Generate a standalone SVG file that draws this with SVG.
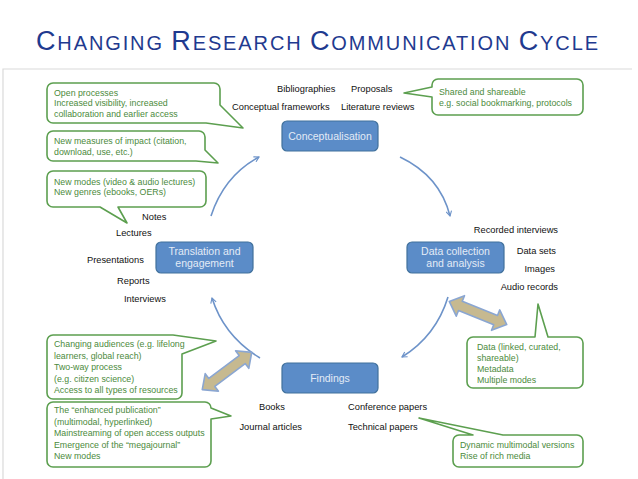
<svg xmlns="http://www.w3.org/2000/svg" width="638" height="479" viewBox="0 0 638 479">
<defs>
<style>
.title{font-family:"Liberation Sans",Arial,sans-serif;fill:#1f3a8f}
.lbl{font-family:"Liberation Sans",Arial,sans-serif;font-size:9.3px;fill:#111}
.ct{font-family:"Liberation Sans",Arial,sans-serif;font-size:8.8px;fill:#4b8a3c}
.co{fill:#fff;stroke:#5c9f4f;stroke-width:1.6;stroke-linejoin:round}
.box{fill:#5b8cc8;stroke:#41719c;stroke-width:1.2}
.bt{font-family:"Liberation Sans",Arial,sans-serif;font-size:10.5px;fill:#e3ebf6;text-anchor:middle}
.conn{fill:none;stroke:#6d93c9;stroke-width:1.6}
.dbl{fill:#c6b990;stroke:#8aa6d2;stroke-width:1.6;stroke-linejoin:round}
</style>
<marker id="ah" viewBox="0 0 10 10" refX="8" refY="5" markerWidth="7" markerHeight="7" orient="auto" markerUnits="userSpaceOnUse">
<path d="M1,1 L8,5 L1,9" fill="none" stroke="#6d93c9" stroke-width="1.6"/>
</marker>
<path id="dblarrow" d="M-31,0 L-19,-11 L-19,-5 L19,-5 L19,-11 L31,0 L19,11 L19,5 L-19,5 L-19,11 Z"/>
</defs>
<rect width="638" height="479" fill="#fff"/>
<g id="frame" stroke="#dadada" stroke-width="1.2" fill="none">
<path d="M3,479 V69 H632"/>
</g>
<text class="title" x="36" y="50" textLength="562" lengthAdjust="spacing"><tspan font-size="27">C</tspan><tspan font-size="20">HANGING </tspan><tspan font-size="27">R</tspan><tspan font-size="20">ESEARCH </tspan><tspan font-size="27">C</tspan><tspan font-size="20">OMMUNICATION </tspan><tspan font-size="27">C</tspan><tspan font-size="20">YCLE</tspan></text>

<g id="connectors">
<path class="conn" d="M211,216 Q224,176 259,157" marker-end="url(#ah)"/>
<path class="conn" d="M400,157 Q440,176 450,216" marker-end="url(#ah)"/>
<path class="conn" d="M448,297 Q436,336 402,357" marker-end="url(#ah)"/>
<path class="conn" d="M260,358 Q224,336 212,298" marker-end="url(#ah)"/>
</g>

<g id="node-conceptualisation">
<rect class="box" x="282" y="121" width="96" height="30" rx="5"/>
<text class="bt" x="330" y="140">Conceptualisation</text>
</g>
<g id="node-data">
<rect class="box" x="407" y="242" width="97" height="31" rx="5"/>
<text class="bt" x="455.5" y="255">Data collection</text>
<text class="bt" x="455.5" y="267">and analysis</text>
</g>
<g id="node-findings">
<rect class="box" x="282" y="363" width="96" height="30" rx="5"/>
<text class="bt" x="330" y="382">Findings</text>
</g>
<g id="node-translation">
<rect class="box" x="156" y="242" width="97" height="31" rx="5"/>
<text class="bt" x="204.5" y="255">Translation and</text>
<text class="bt" x="204.5" y="267">engagement</text>
</g>

<g id="labels-conceptualisation">
<text class="lbl" x="277" y="92">Bibliographies</text>
<text class="lbl" x="351" y="92">Proposals</text>
<text class="lbl" x="232" y="110">Conceptual frameworks</text>
<text class="lbl" x="341" y="110">Literature reviews</text>
</g>
<g id="labels-translation">
<text class="lbl" x="142" y="219.5">Notes</text>
<text class="lbl" x="116" y="236">Lectures</text>
<text class="lbl" x="87" y="263">Presentations</text>
<text class="lbl" x="117" y="283.5">Reports</text>
<text class="lbl" x="124" y="302">Interviews</text>
</g>
<g id="labels-data" text-anchor="end">
<text class="lbl" x="558" y="233">Recorded interviews</text>
<text class="lbl" x="556" y="254">Data sets</text>
<text class="lbl" x="555" y="272">Images</text>
<text class="lbl" x="558" y="289.5">Audio records</text>
</g>
<g id="labels-findings">
<text class="lbl" x="259" y="409.5">Books</text>
<text class="lbl" x="302" y="429.5" text-anchor="end">Journal articles</text>
<text class="lbl" x="348" y="409.5">Conference papers</text>
<text class="lbl" x="348" y="429.5">Technical papers</text>
</g>

<g id="double-arrows">
<use href="#dblarrow" class="dbl" transform="translate(478,313) rotate(22)"/>
<use href="#dblarrow" class="dbl" transform="translate(227,371) rotate(-37)"/>
</g>

<g id="callout-open">
<path class="co" d="M53,83 H214 A6,6 0 0 1 220,89 V105 L243,128 L206,123 H53 A6,6 0 0 1 47,117 V89 A6,6 0 0 1 53,83 Z"/>
<text class="ct" x="54" y="95.5">Open processes</text>
<text class="ct" x="54" y="106">Increased visibility, increased</text>
<text class="ct" x="54" y="117">collaboration and earlier access</text>
</g>
<g id="callout-impact">
<path class="co" d="M53,131 H199 A6,6 0 0 1 205,137 V150 L218,163 L196,161 H53 A6,6 0 0 1 47,155 V137 A6,6 0 0 1 53,131 Z"/>
<text class="ct" x="54" y="143.5">New measures of impact (citation,</text>
<text class="ct" x="54" y="154.5">download, use, etc.)</text>
</g>
<g id="callout-modes">
<path class="co" d="M53,171 H200 A6,6 0 0 1 206,177 V201 A6,6 0 0 1 200,207 H118 L127,223 L100,207 H53 A6,6 0 0 1 47,201 V177 A6,6 0 0 1 53,171 Z"/>
<text class="ct" x="54" y="184.5">New modes (video &amp; audio lectures)</text>
<text class="ct" x="54" y="195">New genres (ebooks, OERs)</text>
</g>
<g id="callout-shared">
<path class="co" d="M438,79 H577 A6,6 0 0 1 583,85 V109 A6,6 0 0 1 577,115 H438 A6,6 0 0 1 432,109 V97 L404,93 L432,87 V85 A6,6 0 0 1 438,79 Z"/>
<text class="ct" x="439" y="95">Shared and shareable</text>
<text class="ct" x="439" y="106">e.g. social bookmarking, protocols</text>
</g>
<g id="callout-audiences">
<path class="co" d="M53,335 H173 L216,341 L182,354 V393 A6,6 0 0 1 176,399 H53 A6,6 0 0 1 47,393 V341 A6,6 0 0 1 53,335 Z"/>
<text class="ct" x="54" y="347">Changing audiences (e.g. lifelong</text>
<text class="ct" x="54" y="358.5">learners, global reach)</text>
<text class="ct" x="54" y="370">Two-way process</text>
<text class="ct" x="54" y="381.5">(e.g. citizen science)</text>
<text class="ct" x="54" y="393">Access to all types of resources</text>
</g>
<g id="callout-publication">
<path class="co" d="M53,402 H205 A6,6 0 0 1 211,408 L231,416 L211,419 V461 A6,6 0 0 1 205,467 H53 A6,6 0 0 1 47,461 V408 A6,6 0 0 1 53,402 Z"/>
<text class="ct" x="54" y="413">The “enhanced publication”</text>
<text class="ct" x="54" y="424.5">(multimodal, hyperlinked)</text>
<text class="ct" x="54" y="436">Mainstreaming of open access outputs</text>
<text class="ct" x="54" y="447.5">Emergence of the “megajournal”</text>
<text class="ct" x="54" y="459">New modes</text>
</g>
<g id="callout-data">
<path class="co" d="M473,337 H535 L538,304 L548,337 H577 A6,6 0 0 1 583,343 V382 A6,6 0 0 1 577,388 H473 A6,6 0 0 1 467,382 V343 A6,6 0 0 1 473,337 Z"/>
<text class="ct" x="477" y="349.5">Data (linked, curated,</text>
<text class="ct" x="477" y="360.5">shareable)</text>
<text class="ct" x="477" y="372">Metadata</text>
<text class="ct" x="477" y="382.5">Multiple modes</text>
</g>
<g id="callout-dynamic">
<path class="co" d="M459,435 H473 L419,418 L503,435 H577 A6,6 0 0 1 583,441 V461 A6,6 0 0 1 577,467 H459 A6,6 0 0 1 453,461 V441 A6,6 0 0 1 459,435 Z"/>
<text class="ct" x="460" y="448">Dynamic multimodal versions</text>
<text class="ct" x="460" y="458.5">Rise of rich media</text>
</g>
</svg>
